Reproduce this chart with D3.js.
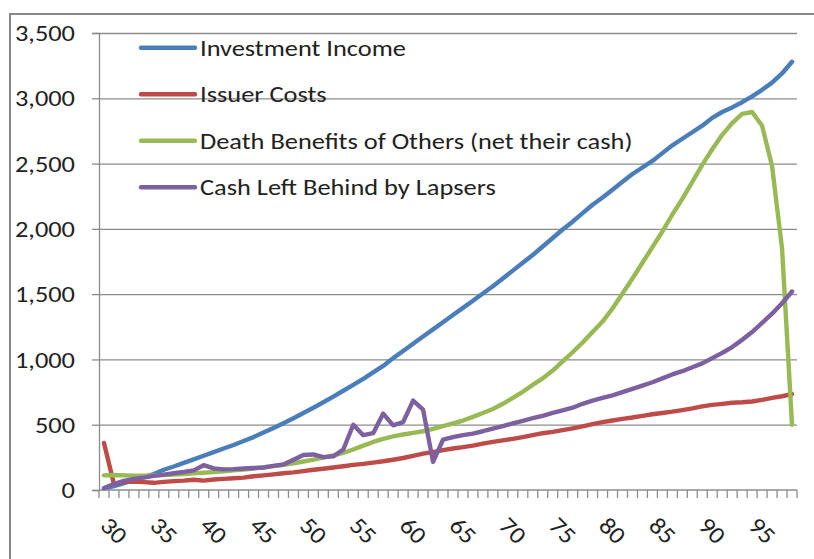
<!DOCTYPE html>
<html><head><meta charset="utf-8">
<script src="https://cdn.jsdelivr.net/npm/d3@7"></script>
<style>
body{margin:0;background:#fff}
svg{display:block}
text{font-family:Carlito, Calibri, Lato, "Open Sans", sans-serif; fill:#222}
</style>
</head><body>
<svg id="c" width="814" height="559"></svg>
<script>
const ages = [30,31,32,33,34,35,36,37,38,39,40,41,42,43,44,45,46,47,48,49,50,51,52,53,54,55,56,57,58,59,60,61,62,63,64,65,66,67,68,69,70,71,72,73,74,75,76,77,78,79,80,81,82,83,84,85,86,87,88,89,90,91,92,93,94,95,96,97,98,99];
const xTickLabels = [30,35,40,45,50,55,60,65,70,75,80,85,90,95];
const yTickValues = [0,500,1000,1500,2000,2500,3000,3500];
const seriesNames = ["Investment Income","Issuer Costs","Death Benefits of Others (net their cash)","Cash Left Behind by Lapsers"];
const seriesColors = ["#4A7EBB","#BE4B48","#98B954","#7D60A0"];

const investmentIncome = [12,30,52,75,100,122,155,180,208,235,262,290,318,345,375,405,440,475,512,550,590,630,672,715,760,805,852,900,950,1010,1065,1120,1175,1230,1285,1340,1395,1450,1505,1560,1620,1680,1740,1800,1865,1930,1995,2055,2120,2185,2240,2300,2360,2420,2470,2520,2580,2640,2690,2740,2790,2850,2895,2930,2970,3015,3065,3120,3190,3280];
const issuerCosts = [360,45,62,65,60,55,62,68,72,78,72,80,85,90,95,105,112,120,128,135,145,155,163,172,182,192,200,210,220,232,245,262,278,290,305,318,328,340,355,368,380,392,405,420,435,445,458,472,488,505,520,532,545,555,568,580,590,600,612,625,640,652,660,668,672,678,690,705,718,735];
const deathBenefits = [112,115,112,110,110,112,115,118,122,127,132,137,143,150,157,165,173,183,193,205,218,232,248,265,285,310,340,368,392,410,425,437,450,468,490,510,532,560,590,620,660,705,752,805,855,915,985,1055,1130,1210,1290,1390,1505,1620,1740,1860,1980,2110,2230,2360,2490,2610,2720,2810,2880,2895,2790,2480,1850,500];
const cashLapsers = [15,45,70,85,95,108,118,128,138,150,190,165,158,160,165,168,172,185,195,232,268,272,252,258,310,500,420,435,585,495,520,685,615,215,385,405,420,432,450,470,490,510,530,550,568,590,610,630,660,685,705,725,750,775,800,825,855,885,910,940,970,1010,1050,1095,1150,1210,1280,1350,1430,1520];

const seriesData = [investmentIncome, issuerCosts, deathBenefits, cashLapsers];

const svg = d3.select("#c");
const pL = 99, pR = 797, pT = 33, pB = 490;
const x = d3.scaleBand().domain(ages).range([pL, pR]).paddingInner(0).paddingOuter(0);
const y = d3.scaleLinear().domain([0, 3500]).range([pB, pT]);
const cx = a => x(a) + x.bandwidth() / 2;
const textStretch = 1.2;

// outer chart border
svg.append("rect").attr("x", 10).attr("y", 14).attr("width", 840).attr("height", 600)
  .attr("fill", "none").attr("stroke", "#878787").attr("stroke-width", 2);

// gridlines
const grid = svg.append("g").attr("transform", `translate(${pL},0)`)
  .call(d3.axisLeft(y).tickValues(yTickValues.filter(v => v > 0)).tickSize(-(pR - pL)).tickFormat(""));
grid.select(".domain").remove();
grid.selectAll("line").attr("stroke", "#8c8c8c").attr("stroke-width", 1.3);

// y axis
const yAxis = svg.append("g").attr("transform", `translate(${pL},0)`)
  .call(d3.axisLeft(y).tickValues(yTickValues).tickSize(7).tickFormat(d3.format(",")));
yAxis.select(".domain").attr("stroke", "#8c8c8c").attr("stroke-width", 1.3);
yAxis.selectAll("line").attr("stroke", "#8c8c8c").attr("stroke-width", 1.3);
yAxis.selectAll("text").attr("x", null).attr("dy", "0.35em")
  .attr("transform", `translate(-24,0) scale(${textStretch},1)`)
  .style("font-size", "22px").attr("fill", "#222");

// x axis
const xAxis = svg.append("g").attr("transform", `translate(0,${pB})`);
xAxis.append("line").attr("x1", pL).attr("x2", pR).attr("stroke", "#8c8c8c").attr("stroke-width", 1.3);
const boundaries = ages.map(a => x(a)).concat([x(ages[ages.length - 1]) + x.bandwidth()]);
xAxis.selectAll("line.tk").data(boundaries).join("line").attr("class", "tk")
  .attr("x1", d => d).attr("x2", d => d).attr("y1", 0).attr("y2", 8)
  .attr("stroke", "#8c8c8c").attr("stroke-width", 1.3);
xAxis.selectAll("text.lbl").data(xTickLabels).join("text").attr("class", "lbl")
  .attr("transform", d => `translate(${cx(d) - 5},${527 - pB}) rotate(45) scale(1.08,1)`)
  .style("font-size", "24px").text(d => d);

// lines
const line = d3.line().x((v, i) => cx(ages[i])).y(v => y(v));
seriesData.forEach((s, k) => {
  svg.append("path").datum(s).attr("d", line).attr("fill", "none")
    .attr("stroke", seriesColors[k]).attr("stroke-width", 4.4)
    .attr("stroke-linejoin", "round").attr("stroke-linecap", "round");
});

// legend
const leg = svg.append("g");
seriesNames.forEach((n, i) => {
  const ly = 47.7 + i * 46.5;
  leg.append("line").attr("x1", 141).attr("x2", 195).attr("y1", ly).attr("y2", ly)
    .attr("stroke", seriesColors[i]).attr("stroke-width", 4.4).attr("stroke-linecap", "round");
  leg.append("text").attr("transform", `translate(200,${ly}) scale(${textStretch},1)`)
    .attr("dy", "0.36em").style("font-size", "22px").text(n);
});
</script>
</body></html>
